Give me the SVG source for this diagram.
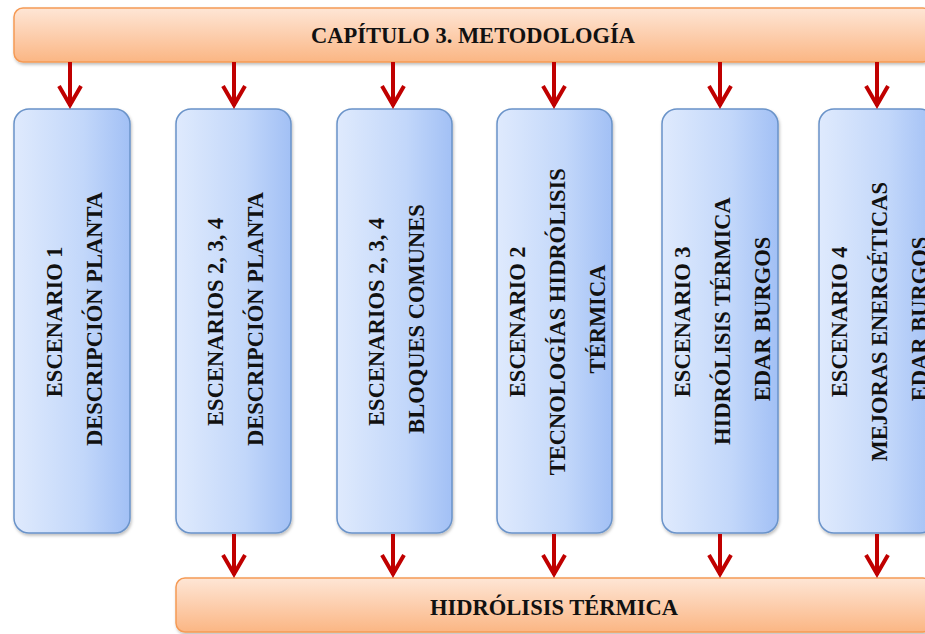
<svg xmlns="http://www.w3.org/2000/svg" width="925" height="634" viewBox="0 0 925 634">
  <defs>
    <linearGradient id="gOrange" x1="0" y1="0" x2="0" y2="1">
      <stop offset="0" stop-color="#fee6d6"/>
      <stop offset="1" stop-color="#fbb684"/>
    </linearGradient>
    <linearGradient id="gBlue" x1="0" y1="0" x2="1" y2="0">
      <stop offset="0" stop-color="#dfeafd"/>
      <stop offset="0.6" stop-color="#c2d7fa"/>
      <stop offset="1" stop-color="#a2c0f5"/>
    </linearGradient>
    <filter id="shadow" x="-10%" y="-10%" width="130%" height="130%">
      <feDropShadow dx="1" dy="2" stdDeviation="1.5" flood-color="#000" flood-opacity="0.25"/>
    </filter>
  </defs>
  <style>
    .bar { fill: url(#gOrange); stroke: #f59a55; stroke-width: 1.5; filter: url(#shadow); }
    .box { fill: url(#gBlue); stroke: #6a93c9; stroke-width: 1.5; filter: url(#shadow); }
    .lbl { font-family: "Liberation Serif", "Times New Roman", serif; font-weight: bold; font-size: 22.5px; fill: #111; text-anchor: middle; }
    .arr { fill: none; stroke: #c00000; stroke-width: 4; stroke-linejoin: miter; stroke-linecap: butt; }
  </style>

  <!-- header bar -->
  <g id="capitulo3">
    <rect class="bar" x="14" y="8" width="918" height="54" rx="9"/>
    <text class="lbl" x="473" y="43">CAPÍTULO 3. METODOLOGÍA</text>
  </g>

  <!-- scenario boxes, vertical labels read bottom to top -->
  <g id="escenario1">
    <rect class="box" x="14" y="109" width="116" height="424" rx="15"/>
    <text class="lbl" transform="translate(62,319) rotate(-90)">
      <tspan x="0" y="0">ESCENARIO 1</tspan>
      <tspan x="0" y="40">DESCRIPCIÓN PLANTA</tspan>
    </text>
  </g>
  <g id="escenarios234-planta">
    <rect class="box" x="176" y="109" width="115" height="424" rx="15"/>
    <text class="lbl" transform="translate(223,319) rotate(-90)">
      <tspan x="0" y="0">ESCENARIOS 2, 3, 4</tspan>
      <tspan x="0" y="40">DESCRIPCIÓN PLANTA</tspan>
    </text>
  </g>
  <g id="escenarios234-bloques">
    <rect class="box" x="337" y="109" width="115" height="424" rx="15"/>
    <text class="lbl" transform="translate(384,319) rotate(-90)">
      <tspan x="0" y="0">ESCENARIOS 2, 3, 4</tspan>
      <tspan x="0" y="40">BLOQUES COMUNES</tspan>
    </text>
  </g>
  <g id="escenario2">
    <rect class="box" x="497" y="109" width="115" height="424" rx="15"/>
    <text class="lbl" transform="translate(525,319) rotate(-90)">
      <tspan x="0" y="0">ESCENARIO 2</tspan>
      <tspan x="0" y="40">TECNOLOGÍAS HIDRÓLISIS</tspan>
      <tspan x="0" y="80">TÉRMICA</tspan>
    </text>
  </g>
  <g id="escenario3">
    <rect class="box" x="662" y="109" width="116" height="424" rx="15"/>
    <text class="lbl" transform="translate(690,319) rotate(-90)">
      <tspan x="0" y="0">ESCENARIO 3</tspan>
      <tspan x="0" y="40">HIDRÓLISIS TÉRMICA</tspan>
      <tspan x="0" y="80">EDAR BURGOS</tspan>
    </text>
  </g>
  <g id="escenario4">
    <rect class="box" x="819" y="109" width="116" height="424" rx="15"/>
    <text class="lbl" transform="translate(847,319) rotate(-90)">
      <tspan x="0" y="0">ESCENARIO 4</tspan>
      <tspan x="0" y="40">MEJORAS ENERGÉTICAS</tspan>
      <tspan x="0" y="80">EDAR BURGOS</tspan>
    </text>
  </g>

  <!-- footer bar -->
  <g id="hidrolisis-termica">
    <rect class="bar" x="176" y="578" width="756" height="54" rx="9"/>
    <text class="lbl" x="554" y="615">HIDRÓLISIS TÉRMICA</text>
  </g>

  <!-- connectors: header to boxes, boxes to footer -->
  <g id="connectors">
    <path class="arr" d="M70 62V106M59 86L70 105L81 86"/>
    <path class="arr" d="M234 62V106M223 86L234 105L245 86"/>
    <path class="arr" d="M393 62V106M382 86L393 105L404 86"/>
    <path class="arr" d="M554 62V106M543 86L554 105L565 86"/>
    <path class="arr" d="M720 62V106M709 86L720 105L731 86"/>
    <path class="arr" d="M877 62V106M866 86L877 105L888 86"/>

    <path class="arr" d="M234 534V575M223 555L234 574L245 555"/>
    <path class="arr" d="M393 534V575M382 555L393 574L404 555"/>
    <path class="arr" d="M554 534V575M543 555L554 574L565 555"/>
    <path class="arr" d="M720 534V575M709 555L720 574L731 555"/>
    <path class="arr" d="M877 534V575M866 555L877 574L888 555"/>
  </g>
</svg>
